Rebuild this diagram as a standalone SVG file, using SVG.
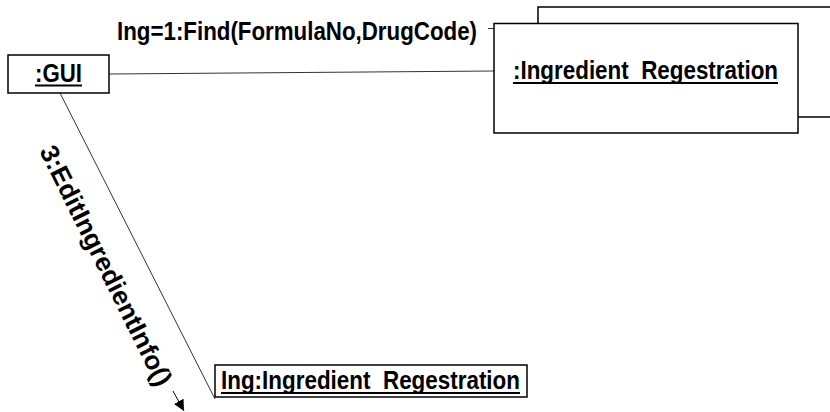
<svg xmlns="http://www.w3.org/2000/svg" width="830" height="412" viewBox="0 0 830 412">
  <style>
    .obj { fill: #ffffff; stroke: #000000; stroke-width: 1.5; }
    .lbl { font-family: "Liberation Sans", Arial, sans-serif; font-weight: bold; font-size: 26px; fill: #000000; }
    .ul { stroke: #000000; stroke-width: 2.2; }
    .link { stroke: #333333; stroke-width: 1; fill: none; }
  </style>
  <defs>
    <marker id="head" viewBox="0 0 10 10" refX="10" refY="5" markerWidth="11" markerHeight="11" markerUnits="userSpaceOnUse" orient="auto">
      <path d="M0,0 L10,5 L0,10 Z" fill="#000000"/>
    </marker>
  </defs>

  <!-- connectors -->
  <g id="connectors">
    <line class="link" x1="109" y1="74" x2="494" y2="71"/>
    <line class="link" x1="60" y1="93" x2="215" y2="399"/>
    <line class="link" x1="488" y1="28.5" x2="494" y2="28.5"/>
    <text class="lbl" x="117" y="40" textLength="360" lengthAdjust="spacingAndGlyphs">Ing=1:Find(FormulaNo,DrugCode)</text>
    <text class="lbl" transform="translate(39,151) rotate(63.5)" x="0" y="0" textLength="265" lengthAdjust="spacingAndGlyphs">3:EditIngredientInfo()</text>
    <line stroke="#000000" stroke-width="1" x1="173" y1="391" x2="184" y2="411" marker-end="url(#head)"/>
  </g>

  <!-- :GUI object -->
  <g id="gui">
    <rect class="obj" x="8" y="55" width="101" height="38"/>
    <text class="lbl" x="35" y="82" textLength="47" lengthAdjust="spacingAndGlyphs">:GUI</text>
    <line class="ul" x1="35" y1="85.5" x2="82" y2="85.5"/>
  </g>

  <!-- :Ingredient Regestration multi-object -->
  <g id="ingredient-registration">
    <rect class="obj" x="538" y="7" width="320" height="110"/>
    <rect class="obj" x="494" y="23.5" width="304" height="109.5"/>
    <text class="lbl" x="513" y="79" textLength="265" lengthAdjust="spacingAndGlyphs" xml:space="preserve">:Ingredient  Regestration</text>
    <line class="ul" x1="513" y1="83" x2="778" y2="83"/>
  </g>

  <!-- Ing:Ingredient Regestration object -->
  <g id="ing-object">
    <rect class="obj" x="215" y="365" width="312" height="32"/>
    <text class="lbl" x="221" y="389" textLength="299" lengthAdjust="spacingAndGlyphs" xml:space="preserve">Ing:Ingredient  Regestration</text>
    <line class="ul" x1="221" y1="393" x2="520" y2="393"/>
  </g>
</svg>
